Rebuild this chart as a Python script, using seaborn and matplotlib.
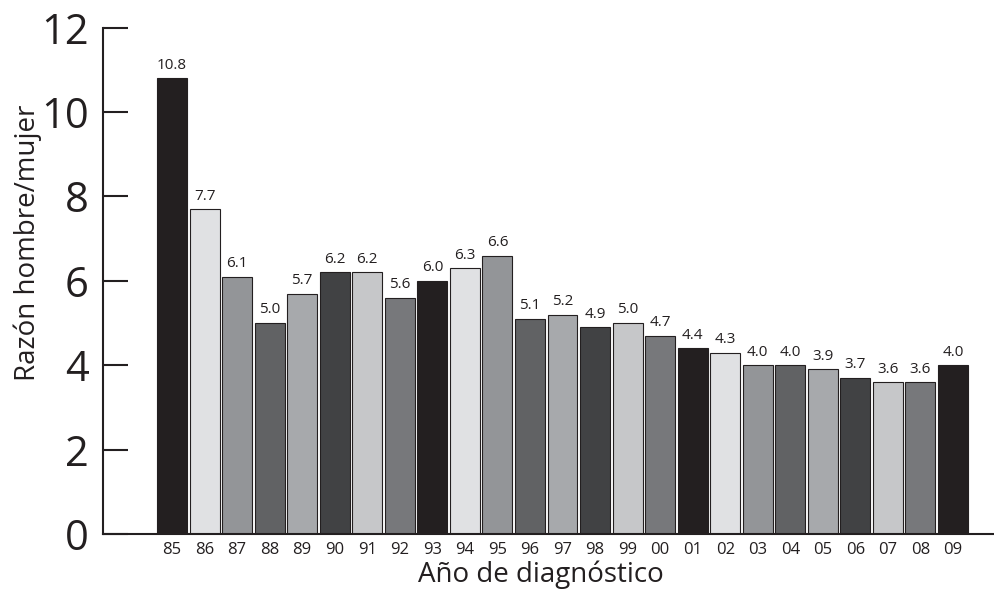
"""
Razón hombre/mujer por año de diagnóstico - bar chart
"""

import matplotlib
matplotlib.use("Agg")
import matplotlib.pyplot as plt
import seaborn as sns
import pandas as pd

# Data
years = ["85", "86", "87", "88", "89", "90", "91", "92", "93", "94", "95", "96",
         "97", "98", "99", "00", "01", "02", "03", "04", "05", "06", "07", "08", "09"]
ratios = [10.8, 7.7, 6.1, 5.0, 5.7, 6.2, 6.2, 5.6, 6.0, 6.3, 6.6, 5.1,
          5.2, 4.9, 5.0, 4.7, 4.4, 4.3, 4.0, 4.0, 3.9, 3.7, 3.6, 3.6, 4.0]
y_ticks = [0, 2, 4, 6, 8, 10, 12]

# grey cycle repeats every 8 bars
grey_cycle = ["#231f20", "#e0e1e3", "#939598", "#616264",
              "#a7a9ac", "#414244", "#c6c7c9", "#77787b"]
bar_colors = [grey_cycle[i % len(grey_cycle)] for i in range(len(years))]

df = pd.DataFrame({"year": years, "ratio": ratios})

sns.set_style("white")
plt.rcParams["font.family"] = ["Open Sans", "DejaVu Sans"]

fig = plt.figure(figsize=(9.94, 5.98), dpi=100)
ax = fig.add_axes([0.1033, 0.107, 0.8967, 0.8467])

sns.barplot(data=df, x="year", y="ratio", hue="year", palette=bar_colors,
            legend=False, width=0.92, edgecolor="#231f20", linewidth=0.8,
            saturation=1, ax=ax)

# Value labels
for container, val in zip(ax.containers, ratios):
    ax.bar_label(container, labels=[f"{val:.1f}"], padding=4,
                 fontsize=11, color="#231f20")

ax.set_ylim(0, 12)
ax.set_xlim(-2.13, 25.26)
ax.set_yticks(y_ticks)
ax.tick_params(axis="y", left=True, direction="in", length=18, width=1.5,
               labelsize=30, pad=10, colors="#231f20")
ax.tick_params(axis="x", bottom=False, length=0, labelsize=12, pad=6,
               colors="#231f20")

for side in ["top", "right"]:
    ax.spines[side].set_visible(False)
for side in ["left", "bottom"]:
    ax.spines[side].set_linewidth(1.5)
    ax.spines[side].set_color("#231f20")

ax.set_ylabel("Razón hombre/mujer", fontsize=20, color="#231f20")
ax.set_xlabel("Año de diagnóstico", fontsize=20, color="#231f20")
ax.yaxis.set_label_coords(-0.068, 0.575)
ax.xaxis.set_label_coords(0.492, -0.052)

fig.savefig("out.png", dpi=100)
plt.close(fig)
